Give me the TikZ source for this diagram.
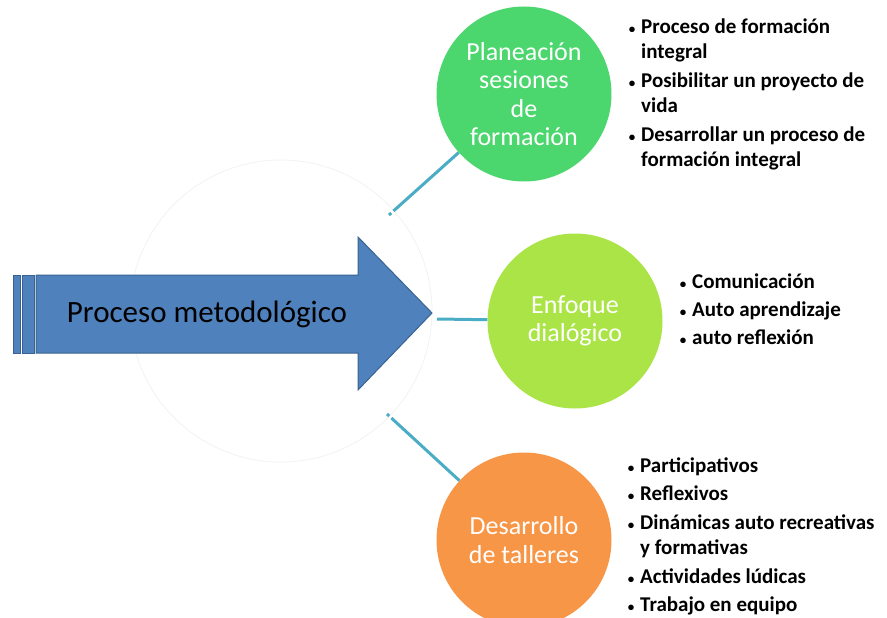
\documentclass[tikz,border=0pt]{standalone}
\usepackage{fontspec}
\setmainfont{Carlito}
\usepackage{xcolor}
\definecolor{arrowblue}{HTML}{4F81BD}
\definecolor{arrowedge}{HTML}{3A6291}
\definecolor{linkteal}{HTML}{4BACC6}
\definecolor{circgreen}{HTML}{4CD66E}
\definecolor{circlime}{HTML}{AAE446}
\definecolor{circorange}{HTML}{F79646}
\newcommand{\dotitem}{\makebox[12pt][c]{\fontsize{13}{13}\selectfont\textbullet}}

\begin{document}
\begin{tikzpicture}[x=1pt,y=-1pt,
    topic/.style={circle, minimum size=175pt, inner sep=0pt, text=white, align=center, font=\fontsize{26}{28.5}\selectfont},
    link/.style={linkteal, line width=3pt},
    bullets/.style={anchor=north west, inner sep=0pt, font=\bfseries\fontsize{21}{25.5}\selectfont}]
    \useasboundingbox (0,0) rectangle (887,618);

    % Faint ring behind the arrow
    \draw[black!5, line width=0.8pt] (281,311) circle (151);

    % Big blue arrow with a striped tail
    \filldraw[fill=arrowblue, draw=arrowedge, line width=1pt] (13,275) rectangle (20,353);
    \filldraw[fill=arrowblue, draw=arrowedge, line width=1pt] (22,275) rectangle (34,353);
    \filldraw[fill=arrowblue, draw=arrowedge, line width=1pt] (36,275) -- (358,275) -- (358,237) -- (432,313) -- (358,390) -- (358,353) -- (36,353) -- cycle;
    \node (proceso) at (207,314) {\fontsize{31}{36}\selectfont Proceso metodológico};

    % The three circles
    \node[topic, fill=circgreen] (planeacion) at (524,94) {Planeación\\sesiones\\de\\formación};
    \node[topic, fill=circlime] (enfoque) at (575,321) {Enfoque\\dialógico};
    \node[topic, fill=circorange] (talleres) at (524,540) {Desarrollo\\de talleres};

    % Connectors start on the faint ring
    \coordinate (ringtop) at (389,215);
    \coordinate (ringmid) at (437,319);
    \coordinate (ringbot) at (387,414);
    \draw[link, dash pattern=on 3pt off 3pt on 300pt] (ringtop) -- (planeacion);
    \draw[link] (ringmid) -- (enfoque);
    \draw[link, dash pattern=on 3pt off 3pt on 300pt] (ringbot) -- (talleres);

    % Bullet lists
    \node[bullets] (listplan) at (626,15) {\begin{tabular}{@{}l@{\hspace{3pt}}l@{}}
        \dotitem & Proceso de formación\\
                 & integral\\[3pt]
        \dotitem & Posibilitar un proyecto de\\
                 & vida\\[3pt]
        \dotitem & Desarrollar un proceso de\\
                 & formación integral
    \end{tabular}};
    \node[bullets] (listenf) at (677,270) {\begin{tabular}{@{}l@{\hspace{3pt}}l@{}}
        \dotitem & Comunicación\\[2.5pt]
        \dotitem & Auto aprendizaje\\[2.5pt]
        \dotitem & auto reflexión
    \end{tabular}};
    \node[bullets] (listtall) at (625,454) {\begin{tabular}{@{}l@{\hspace{3pt}}l@{}}
        \dotitem & Participativos\\[3pt]
        \dotitem & Reflexivos\\[3pt]
        \dotitem & Dinámicas auto recreativas\\
                 & y formativas\\[3pt]
        \dotitem & Actividades lúdicas\\[3pt]
        \dotitem & Trabajo en equipo
    \end{tabular}};
\end{tikzpicture}
\end{document}
